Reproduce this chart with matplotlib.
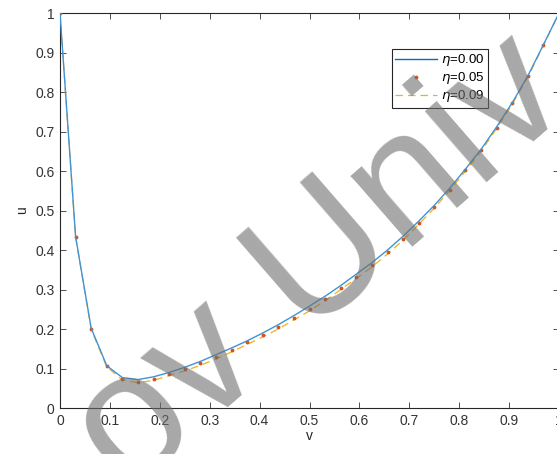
import matplotlib.pyplot as plt
from matplotlib.lines import Line2D

plt.rcParams['font.family'] = ['Liberation Sans', 'DejaVu Sans']

# Pontos de v (malha uniforme)
v = [0, 0.03125, 0.0625, 0.09375, 0.125, 0.15625, 0.1875, 0.21875, 0.25,
     0.28125, 0.3125, 0.34375, 0.375, 0.40625, 0.4375, 0.46875, 0.5,
     0.53125, 0.5625, 0.59375, 0.625, 0.65625, 0.6875, 0.71875, 0.75,
     0.78125, 0.8125, 0.84375, 0.875, 0.90625, 0.9375, 0.96875, 1.0]

# u para cada eta
u_000 = [1.0, 0.434, 0.202, 0.107, 0.077, 0.072, 0.079, 0.090, 0.103,
         0.118, 0.135, 0.152, 0.170, 0.190, 0.211, 0.234, 0.258,
         0.283, 0.310, 0.339, 0.368, 0.400, 0.435, 0.473, 0.513,
         0.557, 0.605, 0.655, 0.712, 0.773, 0.841, 0.920, 1.0]
u_005 = [1.0, 0.434, 0.201, 0.106, 0.073, 0.067, 0.074, 0.086, 0.098,
         0.113, 0.129, 0.147, 0.166, 0.185, 0.205, 0.228, 0.251,
         0.276, 0.304, 0.332, 0.361, 0.394, 0.429, 0.468, 0.509,
         0.553, 0.602, 0.652, 0.710, 0.771, 0.840, 0.920, 1.0]
u_009 = [1.0, 0.433, 0.199, 0.104, 0.071, 0.064, 0.070, 0.082, 0.094,
         0.108, 0.124, 0.142, 0.161, 0.180, 0.200, 0.223, 0.246,
         0.272, 0.300, 0.328, 0.357, 0.390, 0.425, 0.465, 0.506,
         0.551, 0.600, 0.650, 0.708, 0.769, 0.838, 0.918, 1.0]
etas = ['0.00', '0.05', '0.09']

fig = plt.figure(figsize=(5.57, 4.54), dpi=100)
ax = fig.add_axes([0.1077, 0.1013, 0.896, 0.870])

ax.plot(v, u_000, color='#3f93d6', linewidth=1.0, zorder=4)
ax.plot(v, u_005, linestyle='none', marker='.', markersize=3.5, color='#D95319', zorder=3)
ax.plot(v, u_009, linestyle=(0, (6, 4)), color='#EDB120', linewidth=0.9, zorder=2)

ax.set_xlim(0, 1)
ax.set_ylim(0, 1)
ax.set_xticks([i / 10 for i in range(11)])
ax.set_yticks([i / 10 for i in range(11)])
ax.set_xticklabels(['0', '0.1', '0.2', '0.3', '0.4', '0.5', '0.6', '0.7', '0.8', '0.9', '1'])
ax.set_yticklabels(['0', '0.1', '0.2', '0.3', '0.4', '0.5', '0.6', '0.7', '0.8', '0.9', '1'])
ax.tick_params(direction='in', top=True, right=True, length=4, width=0.6,
               labelsize=10, colors='#333333', pad=4)
for s in ax.spines.values():
    s.set_linewidth(0.8)
    s.set_color('#262626')
ax.set_xlabel('v', fontsize=10, color='#262626', labelpad=1)
ax.set_ylabel('u', fontsize=10, color='#262626', labelpad=4)

handles = [
    Line2D([], [], color='#0072BD', linewidth=1.0),
    Line2D([], [], linestyle='none', marker='.', markersize=3.5, color='#D95319'),
    Line2D([], [], linestyle=(0, (6, 4)), color='#EDB120', linewidth=0.9),
]
leg = ax.legend(handles, [r'$\eta$=' + e for e in etas], loc='upper left',
                bbox_to_anchor=(0.665, 0.909), borderaxespad=0, fontsize=9.5,
                fancybox=False, edgecolor='#262626', framealpha=1,
                handlelength=3.2, handletextpad=0.3, borderpad=0.25,
                labelspacing=0.15)
leg.get_frame().set_linewidth(0.8)

# marca d'agua
fig.text(321 / 557, 1 - 265 / 454, 'ov Univ', fontsize=128, color='#6e6e6e',
         alpha=0.6, rotation=41, ha='center', va='center',
         rotation_mode='anchor', zorder=10)

plt.savefig('out.png')
